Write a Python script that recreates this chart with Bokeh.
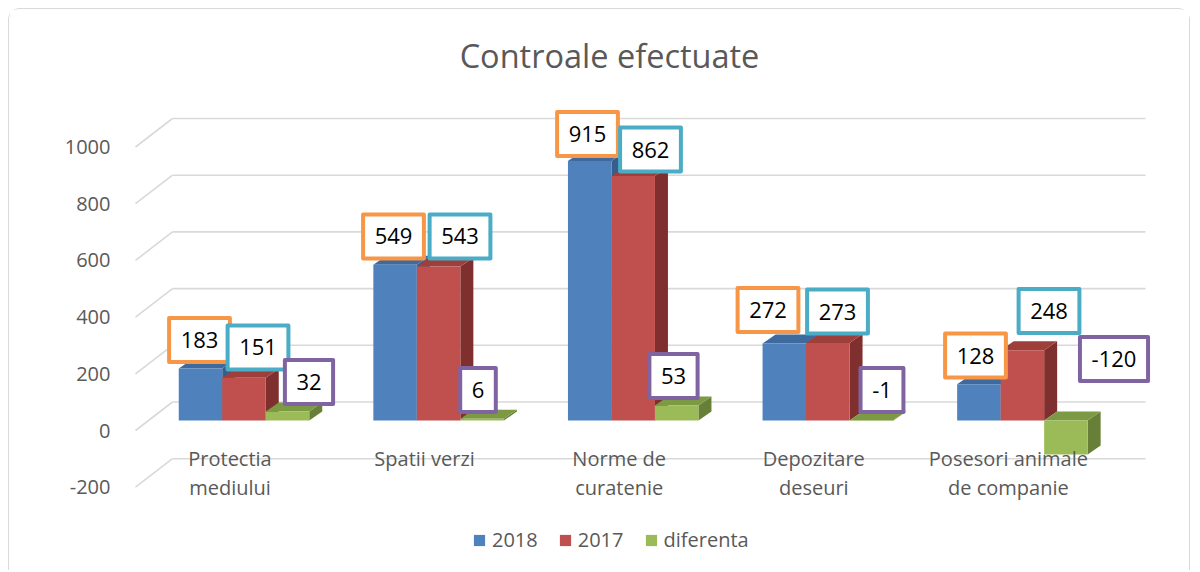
from bokeh.plotting import figure
from bokeh.models import Range1d, LinearAxis, FixedTicker, Legend, LegendItem, ColumnDataSource
from bokeh.core.properties import value
from bokeh.embed import file_html
from bokeh.resources import INLINE

# ---------------- data ----------------
categories = [["Protectia", "mediului"], ["Spatii verzi"], ["Norme de", "curatenie"],
              ["Depozitare", "deseuri"], ["Posesori animale", "de companie"]]
series_names = ["2018", "2017", "diferenta"]
values_2018 = [183, 549, 915, 272, 128]
values_2017 = [151, 543, 862, 273, 248]
values_diff = [32, 6, 53, -1, -120]
y_ticks = [-200, 0, 200, 400, 600, 800, 1000]
title_text = "Controale efectuate"

# ---------------- layout / style ----------------
FONT = "Open Sans"
GREY = "#595959"
MARGIN = 8
W, H = 1182, 562
PAGE_X0, PAGE_Y0 = MARGIN + 1, MARGIN + 1
FRAME_L, FRAME_R, FRAME_T, FRAME_B = 130, 1170, 20, 563
CAT0_X, CAT_STEP = 243.5, 194.6
ZERO_Y, PX_PER_UNIT = 420.0, 0.2835
AXIS_SHIFT = 10.0
BACK_SHIFT = 18.5
BAR_W = 43.5
SERIES_DX = [-43.5, 0.0, 43.5]
DEPTH_DX, DEPTH_DY = 13.0, 9.0

front_colors = ["#4F81BD", "#C0504D", "#9BBB59"]
top_colors = ["#3E6A9E", "#9E3F3C", "#7C9A43"]
side_colors = ["#375D8C", "#7F302E", "#677F36"]
box_colors = ["#F79646", "#4BACC6", "#8064A2"]

# label placement nudges (px right, px up) relative to bar front-top centre
label_nudges = [
    [(-1, 28.6), (-1.6, 28.4), (-2.2, 27.1), (-16.3, 33.4), (-3.4, 28.7)],
    [(14, 30.2), (21.4, 30.1), (17.3, 26.6), (9.7, 31.6), (26.6, 39.2)],
    [(21.5, 29.4), (-4.1, 28.8), (-3.2, 29.5), (10.7, 30.5), (48.1, 61.5)],
]


def ux(px):
    return px / CAT_STEP


def uy(px):
    return px / PX_PER_UNIT


p = figure(width=W, height=H,
           x_range=Range1d(ux(FRAME_L - CAT0_X), ux(FRAME_R - CAT0_X)),
           y_range=Range1d(uy(ZERO_Y - FRAME_B), uy(ZERO_Y - FRAME_T)),
           output_backend="svg", toolbar_location=None,
           x_axis_type=None, y_axis_type=None,
           min_border_left=FRAME_L - PAGE_X0, min_border_right=PAGE_X0 + W - FRAME_R,
           min_border_top=FRAME_T - PAGE_Y0, min_border_bottom=max(0, PAGE_Y0 + H - FRAME_B))
p.margin = (MARGIN, MARGIN, 0, MARGIN)
p.outline_line_color = None
p.background_fill_color = "white"
p.border_fill_color = "white"
p.styles = {"border": "1px solid #d9d9d9", "border-bottom": "none",
            "border-radius": "12px 12px 0 0"}

# axis on the label plane
p.extra_y_ranges = {"ax": Range1d(uy(ZERO_Y + AXIS_SHIFT - FRAME_B), uy(ZERO_Y + AXIS_SHIFT - FRAME_T))}
ax = LinearAxis(y_range_name="ax", ticker=FixedTicker(ticks=y_ticks))
ax.axis_line_color = None
ax.major_tick_line_color = None
ax.minor_tick_line_color = None
ax.major_tick_out = 0
ax.major_tick_in = 0
ax.major_label_standoff = 20
ax.major_label_overrides = {t: str(t) for t in y_ticks}
ax.major_label_text_font = FONT
ax.major_label_text_font_size = "20px"
ax.major_label_text_color = GREY
p.add_layout(ax, "left")

# 3D grid: diagonals + back wall lines
gx0 = ux(135 - CAT0_X)
gx1 = ux(172 - CAT0_X)
gx2 = ux(1145 - CAT0_X)
p.segment(x0=[gx0] * len(y_ticks), y0=[t - uy(AXIS_SHIFT) for t in y_ticks],
          x1=[gx1] * len(y_ticks), y1=[t + uy(BACK_SHIFT) for t in y_ticks],
          line_color="#d9d9d9", line_width=1.6)
p.segment(x0=[gx1] * len(y_ticks), y0=[t + uy(BACK_SHIFT) for t in y_ticks],
          x1=[gx2] * len(y_ticks), y1=[t + uy(BACK_SHIFT) for t in y_ticks],
          line_color="#d9d9d9", line_width=1.6)

# bars
all_series = [values_2018, values_2017, values_diff]
front_renderers = []
ddx, ddy = ux(DEPTH_DX), uy(DEPTH_DY)
for s, vals in enumerate(all_series):
    lefts, rights, bottoms, tops = [], [], [], []
    side_xs, side_ys, top_xs, top_ys = [], [], [], []
    for i, v in enumerate(vals):
        L = i + ux(SERIES_DX[s] - BAR_W / 2)
        R = i + ux(SERIES_DX[s] + BAR_W / 2)
        B, T = min(v, 0), max(v, 0)
        lefts.append(L); rights.append(R); bottoms.append(B); tops.append(T)
        side_xs.append([R, R, R + ddx, R + ddx])
        side_ys.append([B, T, T + ddy, B + ddy])
        top_xs.append([L, R, R + ddx, L + ddx])
        top_ys.append([T, T, T + ddy, T + ddy])
    p.patches(side_xs, side_ys, fill_color=side_colors[s], line_color=None)
    p.patches(top_xs, top_ys, fill_color=top_colors[s], line_color=None)
    r = p.quad(left=lefts, right=rights, bottom=bottoms, top=tops,
               fill_color=front_colors[s], line_color=None)
    front_renderers.append(r)

# category labels (centre of capitals at given page y)
cx, cy, ct = [], [], []
for i, lines in enumerate(categories):
    for k, line in enumerate(lines):
        cx.append(i + ux(-14))
        cy.append(uy(ZERO_Y - (457.5 + 29 * k)))
        ct.append(line)
p.text(x=cx, y=cy, text=ct, text_align="center", text_baseline="middle",
       text_font=value(FONT), text_font_size="20px", text_color=GREY)

# data labels
lx, ly, lt, lw, lc = [], [], [], [], []
for s, vals in enumerate(all_series):
    for i, v in enumerate(vals):
        ndx, ndy = label_nudges[s][i]
        txt = str(v)
        lx.append(i + ux(SERIES_DX[s] + ndx))
        ly.append(max(v, 0) + uy(ndy))
        lt.append(txt)
        lw.append(sum(12.6 if ch.isdigit() else 7.3 for ch in txt) + 23)
        lc.append(box_colors[s])
lsrc = ColumnDataSource(dict(x=lx, y=ly, text=lt, w=lw, c=lc))
p.rect(x="x", y="y", width="w", height=44, width_units="screen", height_units="screen",
       fill_color="white", line_color="c", line_width=4, line_join="round", source=lsrc)
p.text(x="x", y="y", text="text", text_align="center", text_baseline="middle",
       text_font=value(FONT), text_font_size="22px", text_color="black", source=lsrc)

# title
p.text(x=[ux(609 - CAT0_X)], y=[uy(ZERO_Y - 55)], text=[title_text], text_align="center",
       text_baseline="middle", text_font=value(FONT), text_font_size="32.5px", text_color=GREY)

# legend
legend = Legend(items=[LegendItem(label=series_names[k], renderers=[front_renderers[k]]) for k in range(3)],
                orientation="horizontal", location=(472 - FRAME_L, 10))
legend.border_line_color = None
legend.background_fill_alpha = 0
legend.padding = 0
legend.margin = 0
legend.spacing = 20
legend.glyph_width = 14
legend.glyph_height = 14
legend.label_standoff = 6
legend.label_text_font = FONT
legend.label_text_font_size = "20px"
legend.label_text_color = GREY
p.add_layout(legend)

open("out.html", "w").write(file_html(p, INLINE))
